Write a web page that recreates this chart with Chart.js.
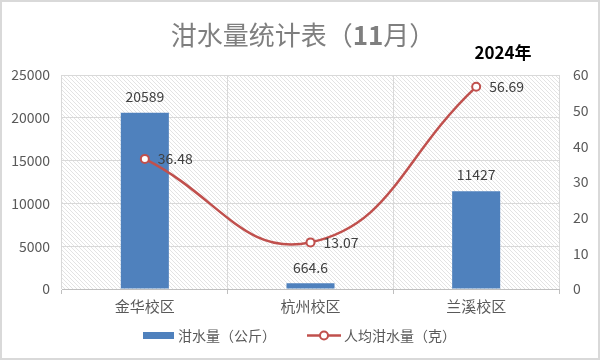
<!DOCTYPE html>
<html>
<head>
<meta charset="utf-8">
<script src="https://cdn.jsdelivr.net/npm/chart.js@4"></script>
<style>
html,body{margin:0;padding:0;background:#fff;}
#wrap{width:600px;height:360px;}
</style>
</head>
<body>
<div id="wrap"><canvas id="chartSwill" width="600" height="360"></canvas></div>
<script>
const campuses = ["金华校区", "杭州校区", "兰溪校区"];
const swillKg = [20589, 664.6, 11427];
const perCapitaG = [36.48, 13.07, 56.69];
const swillLabels = ["20589", "664.6", "11427"];
const perCapitaLabels = ["36.48", "13.07", "56.69"];
const leftTicks = [0, 5000, 10000, 15000, 20000, 25000];
const rightTicks = [0, 10, 20, 30, 40, 50, 60];

const FONT = '"Noto Sans CJK SC", "Noto Sans", sans-serif';
const BLUE = "#4f81bd";
const RED = "#c0504d";

/* motif hachuré du fond */
function hatch(){
  let c = document.createElement("canvas");
  c.width = 4; c.height = 4;
  let g = c.getContext("2d");
  g.strokeStyle = "#e3e3e3";
  g.lineWidth = 1;
  g.beginPath();
  g.moveTo(0,0); g.lineTo(4,4);
  g.moveTo(-1,3); g.lineTo(1,5);
  g.moveTo(3,-1); g.lineTo(5,1);
  g.stroke();
  return g.createPattern(c, "repeat");
}

const decor = {
  id: "decor",
  beforeDraw(chart){
    let ctx = chart.ctx, a = chart.chartArea;
    ctx.save();
    ctx.fillStyle = "#fff";
    ctx.fillRect(0,0,chart.width,chart.height);
    ctx.fillStyle = hatch();
    ctx.fillRect(a.left, a.top, a.right-a.left, a.bottom-a.top);
    ctx.restore();
  },
  afterDraw(chart){
    let ctx = chart.ctx;
    ctx.save();
    // cadre
    ctx.strokeStyle = "#d9d9d9";
    ctx.lineWidth = 2;
    ctx.strokeRect(1,1,598,358);

    // titre
    ctx.textBaseline = "middle";
    let parts = [["泔水量统计表（", "26px "+FONT], ["11", "bold 26px "+FONT], ["月）", "26px "+FONT]];
    let total = 0;
    parts.forEach(p=>{ ctx.font = p[1]; total += ctx.measureText(p[0]).width; });
    let x = 303 - total/2;
    ctx.fillStyle = "#7f7f7f";
    parts.forEach(p=>{ ctx.font = p[1]; ctx.textAlign = "left"; ctx.fillText(p[0], x, 35); x += ctx.measureText(p[0]).width; });

    ctx.fillStyle = "#000";
    ctx.font = "bold 17px " + FONT;
    ctx.textAlign = "center";
    ctx.fillText("2024年", 503, 53);

    // étiquettes de données
    ctx.font = "14px " + FONT;
    ctx.fillStyle = "#404040";
    chart.getDatasetMeta(1).data.forEach((bar,i)=>{
      ctx.textAlign = "center";
      ctx.fillText(swillLabels[i], bar.x, bar.y - 16);
    });
    chart.getDatasetMeta(0).data.forEach((pt,i)=>{
      ctx.textAlign = "left";
      ctx.fillText(perCapitaLabels[i], pt.x + 13, pt.y);
    });

    // légende
    ctx.fillStyle = BLUE;
    ctx.fillRect(143, 332, 31, 7);
    ctx.font = "14px " + FONT;
    ctx.fillStyle = "#595959";
    ctx.textAlign = "left";
    ctx.fillText("泔水量（公斤）", 178, 336);

    ctx.strokeStyle = RED;
    ctx.lineWidth = 2.5;
    ctx.beginPath(); ctx.moveTo(307, 335.5); ctx.lineTo(341, 335.5); ctx.stroke();
    ctx.beginPath(); ctx.arc(324, 335.5, 4, 0, Math.PI*2);
    ctx.fillStyle = "#fff"; ctx.fill();
    ctx.lineWidth = 2; ctx.stroke();
    ctx.fillStyle = "#595959";
    ctx.fillText("人均泔水量（克）", 344, 336);
    ctx.restore();
  }
};

new Chart(document.getElementById("chartSwill"), {
  data: {
    labels: campuses,
    datasets: [
      {
        type: "line",
        label: "人均泔水量（克）",
        data: perCapitaG,
        yAxisID: "y1",
        borderColor: RED,
        borderWidth: 2.5,
        tension: 0.45,
        pointRadius: 4,
        pointBorderWidth: 2,
        pointBackgroundColor: "#fff",
        pointBorderColor: RED,
        order: 0
      },
      {
        type: "bar",
        label: "泔水量（公斤）",
        data: swillKg,
        yAxisID: "y",
        backgroundColor: BLUE,
        categoryPercentage: 1,
        barPercentage: 0.29,
        order: 1
      }
    ]
  },
  options: {
    responsive: false,
    animation: false,
    layout: { padding: { top: 75, bottom: 41, left: 0, right: 0 } },
    plugins: { legend: { display: false }, tooltip: { enabled: false }, title: { display: false } },
    scales: {
      x: {
        offset: true,
        grid: { offset: true, color: "#d9d9d9", tickColor: "#bfbfbf", tickLength: 5 },
        border: { color: "#bfbfbf" },
        ticks: { color: "#595959", font: { size: 15, family: FONT }, padding: 3 },
        afterFit: s => { s.width = s.width; s.height = 30; }
      },
      y: {
        position: "left",
        min: 0, max: 25000,
        afterBuildTicks: s => { s.ticks = leftTicks.map(v=>({value:v})); },
        grid: { color: "#d9d9d9", drawTicks: false },
        border: { display: false },
        ticks: { color: "#595959", font: { size: 14, family: FONT }, padding: 12, callback: v => String(v) },
        afterFit: s => { s.width = 62; }
      },
      y1: {
        position: "right",
        min: 0, max: 60,
        afterBuildTicks: s => { s.ticks = rightTicks.map(v=>({value:v})); },
        grid: { display: false, drawTicks: false },
        border: { display: false },
        ticks: { color: "#595959", font: { size: 14, family: FONT }, padding: 14, callback: v => String(v) },
        afterFit: s => { s.width = 41; }
      }
    }
  },
  plugins: [decor]
});
</script>
</body>
</html>
